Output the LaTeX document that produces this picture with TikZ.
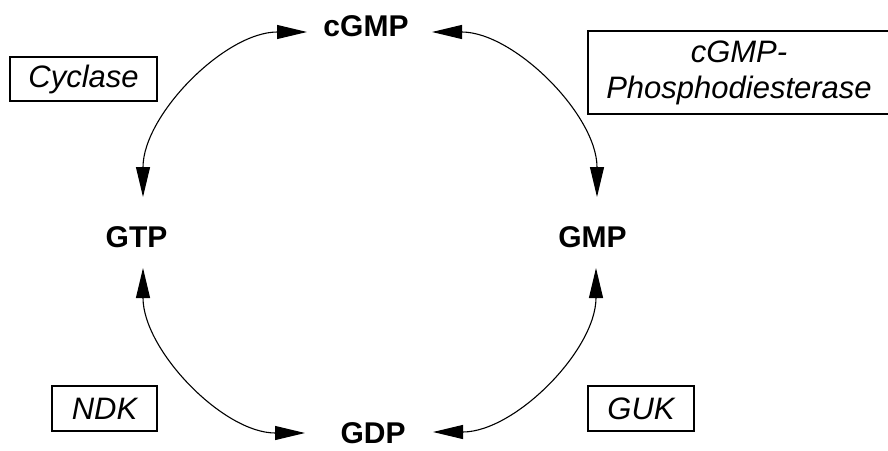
\documentclass[tikz,border=0pt]{standalone}
\usepackage{fontspec}
\setmainfont{Liberation Sans}
\usetikzlibrary{arrows.meta}
\tikzset{
  x=1pt, y=-1pt,
  metab/.style={font=\fontsize{30}{34}\selectfont\bfseries, inner sep=0pt},
  enzyme/.style={draw, line width=1.3pt, inner sep=0pt, align=center,
    font=\fontsize{31}{36}\selectfont\itshape},
  reaction/.style={line width=1.1pt,
    {Triangle[length=30pt,width=14pt]}-{Triangle[length=30pt,width=14pt]}},
}
\begin{document}
\begin{tikzpicture}
\useasboundingbox (0,0) rectangle (888,450);

% metabolites of the cycle
\node[metab] (cgmp) at (366,26) {cGMP};
\node[metab] (gtp) at (136.5,237) {GTP};
\node[metab] (gmp) at (592.5,237) {GMP};
\node[metab] (gdp) at (373,433) {GDP};

% enzymes
\node[enzyme, minimum width=147pt, minimum height=44pt] (cyc) at (83.5,79) {Cyclase};
\node[enzyme, minimum width=302pt, minimum height=83pt] (pde) at (739,72.5)
  {cGMP-\\Phosphodiesterase};
\node[enzyme, minimum width=105pt, minimum height=45pt] (ndk) at (104.5,408.5) {NDK};
\node[enzyme, minimum width=106pt, minimum height=45pt] (guk) at (641,408.5) {GUK};

% reactions (shifts are page lengths: positive yshift is upwards)
\draw[reaction] ([xshift=-59pt,yshift=-6pt]cgmp.center)
  .. controls +(-82,0) and +(0,-82) .. ([xshift=6.5pt,yshift=40pt]gtp.center);
\draw[reaction] ([xshift=66pt,yshift=-6pt]cgmp.center)
  .. controls +(82,0) and +(0,-82) .. ([xshift=4.5pt,yshift=40pt]gmp.center);
\draw[reaction] ([xshift=6.5pt,yshift=-31pt]gtp.center)
  .. controls +(0,82) and +(-82,0) .. ([xshift=-68pt,yshift=0pt]gdp.center);
\draw[reaction] ([xshift=3.5pt,yshift=-31pt]gmp.center)
  .. controls +(0,82) and +(82,0) .. ([xshift=60pt,yshift=1pt]gdp.center);
\end{tikzpicture}
\end{document}
